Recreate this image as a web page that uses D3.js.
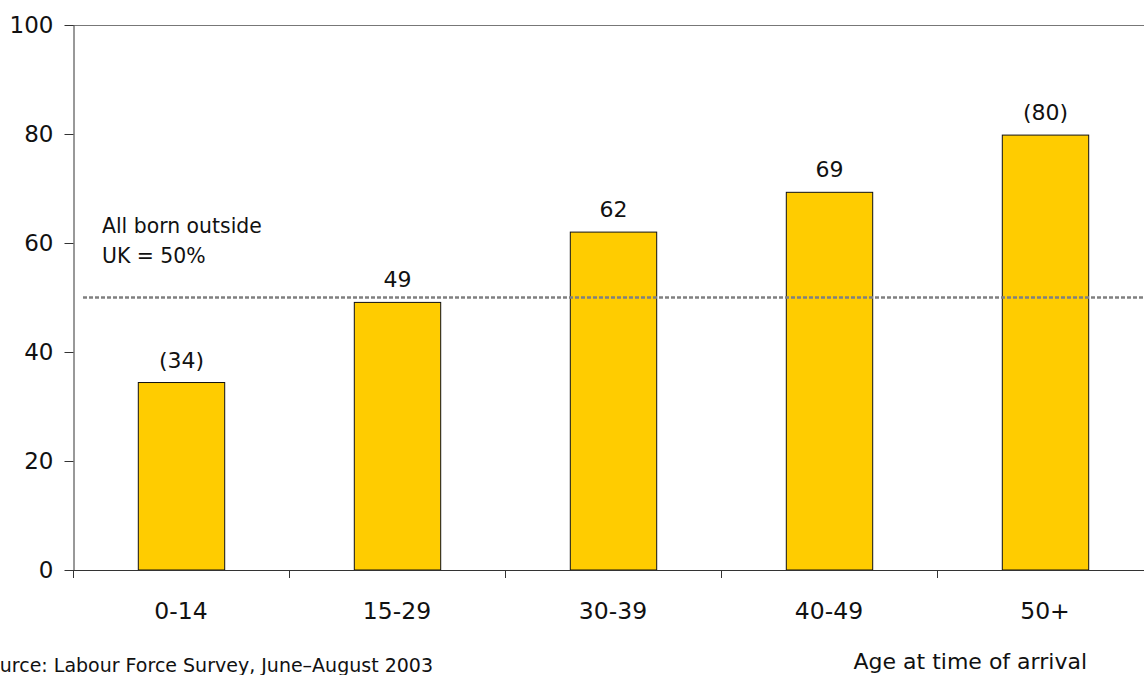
<!DOCTYPE html>
<html><head><meta charset="utf-8">
<script src="https://cdn.jsdelivr.net/npm/d3@7"></script>
<style>body{margin:0;background:#fff}svg{display:block}text{font-family:"DejaVu Sans",sans-serif;fill:#111}</style>
</head><body>
<script>
const categories = ["0-14","15-29","30-39","40-49","50+"];
const values = [34.4, 49.1, 62, 69.3, 79.8];
const valueLabels = ["(34)","49","62","69","(80)"];
const yTicks = [0,20,40,60,80,100];
const referenceValue = 50;
const referenceLabel = ["All born outside","UK = 50%"];
const xTitle = "Age at time of arrival";
const sourceNote = "Source: Labour Force Survey, June–August 2003";

(function(){
const FONT = '"DejaVu Sans",sans-serif';
const W = 1144, H = 675;
const svg = d3.select("body").append("svg").attr("width", W).attr("height", H);
const mLeft = 73, mTop = 25, mBottom = 570, mRight = 73 + 216*5;
const x = d3.scaleBand().domain(categories).range([mLeft, mRight]).paddingInner(0.6).paddingOuter(0.3);
const xb = d3.scaleBand().domain(categories).range([mLeft, mRight]);
const y = d3.scaleLinear().domain([0,100]).range([mBottom, mTop]);

// top frame line
svg.append("line").attr("x1", mLeft).attr("x2", W).attr("y1", y(100)+0.5).attr("y2", y(100)+0.5)
  .attr("stroke", "#777").attr("stroke-width", 1);

// bars
svg.selectAll("rect.bar").data(values).join("rect").attr("class","bar")
  .attr("x", (d,i) => x(categories[i]) + 0.5)
  .attr("width", x.bandwidth())
  .attr("y", d => y(d))
  .attr("height", d => mBottom - y(d))
  .attr("fill", "#FFCC00").attr("stroke", "#111").attr("stroke-width", 1);

// value labels
svg.selectAll("text.val").data(values).join("text").attr("class","val")
  .attr("x", (d,i) => x(categories[i]) + x.bandwidth()/2 + 0.5)
  .attr("y", d => y(d) - 15)
  .attr("text-anchor","middle").attr("font-size", 22)
  .text((d,i) => valueLabels[i]);

// reference dotted line
svg.append("line").attr("x1", 83).attr("x2", W).attr("y1", y(referenceValue)).attr("y2", y(referenceValue))
  .attr("stroke", "#808080").attr("stroke-width", 2.5).attr("stroke-dasharray", "4,2");

svg.selectAll("text.ref").data(referenceLabel).join("text").attr("class","ref")
  .attr("x", 102).attr("y", (d,i) => 233 + i*30).attr("font-size", 20.4).text(d => d);

// y axis
const yAxis = svg.append("g").attr("transform", `translate(${mLeft+0.5},0)`)
  .call(d3.axisLeft(y).tickValues(yTicks).tickSize(9).tickPadding(11).tickSizeOuter(0));
yAxis.select(".domain").attr("stroke", "#333");
yAxis.selectAll(".tick line").attr("stroke", "#333");
yAxis.selectAll("text").attr("font-size", 23).attr("font-family", FONT).attr("fill","#111");

// x axis
const xAxis = svg.append("g").attr("transform", `translate(0,${mBottom+0.5})`)
  .call(d3.axisBottom(xb).tickSize(0).tickPadding(0).tickSizeOuter(0));
xAxis.select(".domain").remove();
svg.append("line").attr("x1", mLeft).attr("x2", W).attr("y1", mBottom+0.5).attr("y2", mBottom+0.5).attr("stroke","#333");
xAxis.selectAll(".tick line").remove();
xAxis.selectAll("text").attr("y", 48).attr("dy", 0).attr("font-size", 23.5)
  .attr("font-family", FONT).attr("fill","#111");
// category boundary ticks
svg.selectAll("line.xt").data(categories).join("line").attr("class","xt")
  .attr("x1", d => xb(d) + 0.5).attr("x2", d => xb(d) + 0.5)
  .attr("y1", mBottom).attr("y2", mBottom + 8).attr("stroke", "#333");

svg.append("text").attr("x", 1087).attr("y", 669).attr("text-anchor","end").attr("font-size", 22).text(xTitle);
svg.append("text").attr("x", 433).attr("y", 672).attr("text-anchor","end").attr("font-size", 19).text(sourceNote);
})();
</script>
</body></html>
